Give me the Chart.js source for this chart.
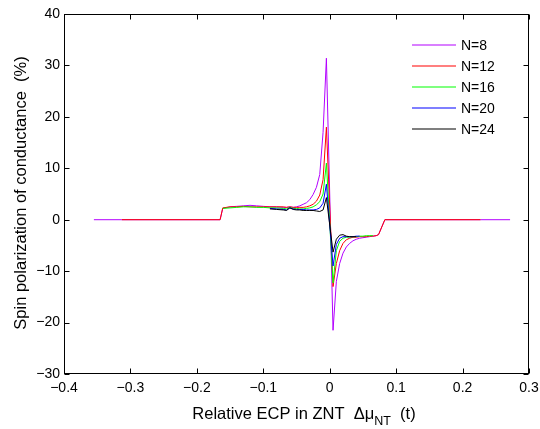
<!DOCTYPE html>
<html>
<head>
<meta charset="utf-8">
<script src="https://cdn.jsdelivr.net/npm/chart.js@4/dist/chart.umd.min.js"></script>
<style>
  html, body { margin: 0; padding: 0; background: #fff; }
  #wrap { width: 540px; height: 429px; }
</style>
</head>
<body>
<div id="wrap"><canvas id="spinChart" width="540" height="429"></canvas></div>
<script>
// relative ECP values (t), shared grid; null = no data for that N
var dmu = [-0.355, -0.313, -0.165, -0.161, -0.15, -0.14, -0.13, -0.12, -0.11, -0.1,
           -0.09, -0.08, -0.07, -0.065, -0.06, -0.055, -0.05, -0.045, -0.04, -0.035,
           -0.03, -0.025, -0.02, -0.015, -0.01, -0.005, 0.005, 0.01, 0.015, 0.02,
           0.025, 0.03, 0.035, 0.04, 0.045, 0.05, 0.055, 0.06, 0.065, 0.07,
           0.0735, 0.083, 0.227, 0.2715];

var n8  = [0, 0, 0, 2.2, 2.5, 2.6, 2.7, 2.8, 2.7, 2.6,
           2.5, 2.5, 2.4, 2.4, 2.5, 2.4, 2.5, 2.7, 3.0, 3.3,
           3.9, 4.9, 6.3, 8.8, 17, 31.4, -21.5, -12, -8.5, -6.5,
           -5.3, -4.6, -4.1, -3.8, -3.6, -3.5, -3.4, -3.3, -3.2, -3.1,
           -2.9, 0, 0, 0];
var n12 = [null, 0, 0, 2.3, 2.5, 2.5, 2.6, 2.5, 2.5, 2.5,
           2.5, 2.5, 2.5, 2.4, 2.5, 2.4, 2.4, 2.4, 2.4, 2.5,
           2.7, 3.0, 3.6, 4.8, 7.8, 18, -13, -8.5, -6, -4.6,
           -3.9, -3.6, -3.4, -3.4, -3.3, -3.3, -3.3, -3.2, -3.2, -3.1,
           -2.9, 0, 0, null];
var n16 = [null, null, null, 2.2, 2.3, 2.4, 2.5, 2.5, 2.4, 2.4,
           2.3, 2.3, 2.2, 2.1, 2.4, 2.2, 2.2, 2.1, 2.1, 2.2,
           2.3, 2.5, 2.9, 3.5, 5.0, 11, -12.3, -6, -4.2, -3.6,
           -3.4, -3.4, -3.3, -3.3, -3.2, -3.2, -3.1, -3.1, -3.1, null,
           null, null, null, null];
var n20 = [null, null, null, null, null, null, null, null, null, null,
           2.2, 2.1, 2.0, 1.9, 2.3, 2.1, 2.0, 2.0, 2.0, 1.9,
           1.9, 1.9, 2.0, 2.3, 3.2, 6.9, -9, -4.8, -3.6, -3.3,
           -3.3, -3.3, -3.3, -3.2, -3.2, null, null, null, null, null,
           null, null, null, null];
var n24 = [null, null, null, null, null, null, null, null, null, null,
           2.1, 2.0, 1.9, 1.8, 2.3, 2.0, 1.9, 1.9, 1.8, 1.8,
           1.8, 1.8, 1.7, 1.6, 1.9, 4.3, -6.3, -3.8, -3.0, -2.9,
           -3.2, -3.3, -3.3, -3.3, null, null, null, null, null, null,
           null, null, null, null];

var seriesNames = ['N=8', 'N=12', 'N=16', 'N=20', 'N=24'];
var seriesValues = [n8, n12, n16, n20, n24];
var seriesColors = ['#b300ff', '#ff0000', '#00ff00', '#0000ff', '#000000'];

function toPoints(ys) {
  var pts = [];
  for (var i = 0; i < dmu.length; i++) {
    if (ys[i] !== null) pts.push({ x: dmu[i], y: ys[i] });
  }
  return pts;
}

function fmt(v) {
  var r = Math.round(v * 10) / 10;
  if (r === 0) return '0';
  var s = Math.abs(r) < 1 ? Math.abs(r).toFixed(1) : String(Math.abs(r));
  return (r < 0 ? '\u2212' : '') + s;
}

var FONT = '"Liberation Sans", Arial, sans-serif';

// box, inward ticks, legend and axis titles (MATLAB look)
var matlabFrame = {
  id: 'matlabFrame',
  afterDraw: function (chart) {
    var c = chart.ctx, a = chart.chartArea;
    var xs = chart.scales.x, ys = chart.scales.y;
    var L = Math.round(a.left) + 0.5, R = Math.round(a.right) - 0.5;
    var T = Math.round(a.top) + 0.5, B = Math.round(a.bottom) - 0.5;
    c.save();
    c.strokeStyle = '#000';
    c.lineWidth = 1;
    c.strokeRect(L, T, R - L, B - T);
    c.beginPath();
    xs.ticks.forEach(function (t) {
      var px = Math.round(xs.getPixelForValue(t.value)) + 0.5;
      c.moveTo(px, B); c.lineTo(px, B - 5);
      c.moveTo(px, T); c.lineTo(px, T + 5);
    });
    ys.ticks.forEach(function (t) {
      var py = Math.round(ys.getPixelForValue(t.value)) + 0.5;
      c.moveTo(L, py); c.lineTo(L + 5, py);
      c.moveTo(R, py); c.lineTo(R - 5, py);
    });
    c.stroke();

    // legend
    c.font = '14px ' + FONT;
    c.textBaseline = 'middle';
    c.textAlign = 'left';
    seriesNames.forEach(function (name, i) {
      var y = 45 + 21 * i;
      c.strokeStyle = seriesColors[i];
      c.lineWidth = 1.2;
      c.beginPath();
      c.moveTo(412, y); c.lineTo(456, y);
      c.stroke();
      c.fillStyle = '#000';
      c.fillText(name, 461, y + 1);
    });

    // x title with subscript
    c.textBaseline = 'alphabetic';
    var big = '16.5px ' + FONT, small = '12.5px ' + FONT;
    var part1 = 'Relative ECP in ZNT  \u0394\u03bc';
    var sub = 'NT';
    var part2 = '  (t)';
    c.font = big;
    var w1 = c.measureText(part1).width;
    var w2 = c.measureText(part2).width;
    c.font = small;
    var ws = c.measureText(sub).width;
    var x0 = 304 - (w1 + ws + w2) / 2;
    c.font = big;
    c.fillText(part1, x0, 419);
    c.fillText(part2, x0 + w1 + ws, 419);
    c.font = small;
    c.fillText(sub, x0 + w1, 425);

    // y title
    c.font = big;
    c.translate(26, 193);
    c.rotate(-Math.PI / 2);
    c.textAlign = 'center';
    c.fillText('Spin polarization of conductance  (%)', 0, 0);
    c.restore();
  }
};

var ctx = document.getElementById('spinChart').getContext('2d');
var spinChart = new Chart(ctx, {
  type: 'line',
  data: {
    datasets: seriesValues.map(function (ys, i) {
      return {
        label: seriesNames[i],
        data: toPoints(ys),
        borderColor: seriesColors[i],
        borderWidth: 1,
        pointRadius: 0,
        tension: 0,
        fill: false,
        order: seriesValues.length - i   // later N drawn on top
      };
    })
  },
  options: {
    responsive: false,
    animation: false,
    layout: { padding: { top: 14, right: 11, left: 0, bottom: 0 } },
    plugins: { legend: { display: false }, tooltip: { enabled: false } },
    scales: {
      x: {
        type: 'linear',
        min: -0.4, max: 0.3,
        grid: { drawOnChartArea: false, drawTicks: false },
        border: { display: false },
        ticks: { stepSize: 0.1, padding: 6, color: '#000', maxRotation: 0,
                 font: { family: FONT, size: 14 }, callback: fmt },
        afterFit: function (s) { s.height = 55; s.paddingLeft = 0; s.paddingRight = 0; }
      },
      y: {
        min: -30, max: 40,
        grid: { drawOnChartArea: false, drawTicks: false },
        border: { display: false },
        ticks: { stepSize: 10, padding: 4, color: '#000',
                 font: { family: FONT, size: 14 }, callback: fmt },
        afterFit: function (s) { s.width = 64; s.paddingTop = 0; s.paddingBottom = 0; }
      }
    }
  },
  plugins: [matlabFrame]
});
</script>
</body>
</html>
